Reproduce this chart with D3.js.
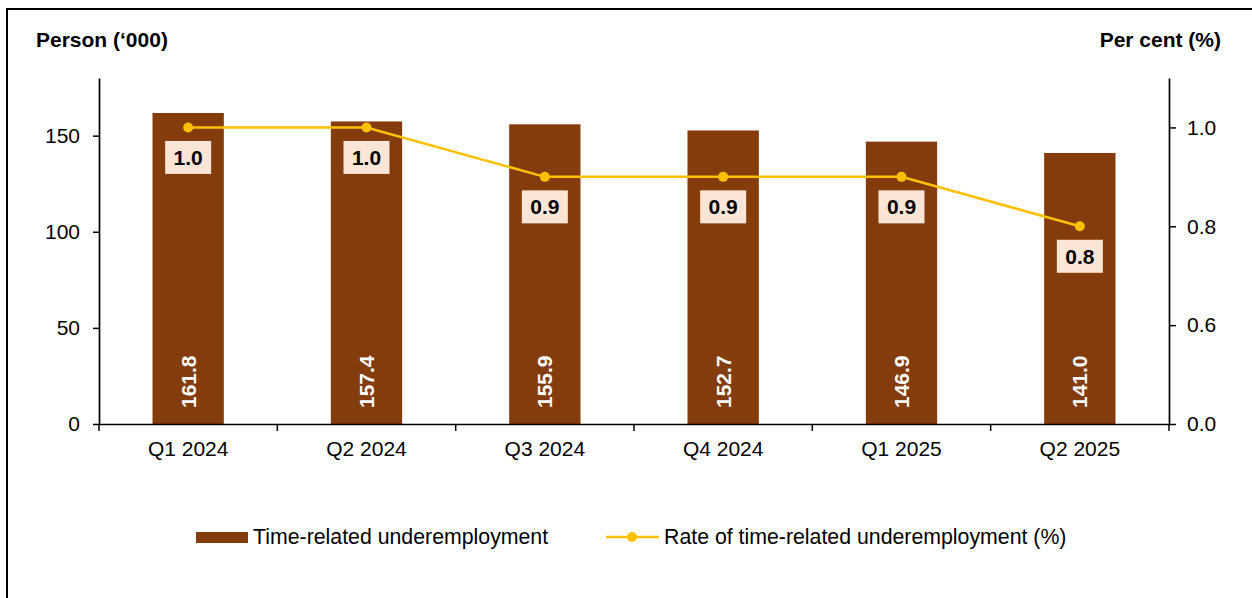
<!DOCTYPE html>
<html>
<head>
<meta charset="utf-8">
<script src="https://cdn.jsdelivr.net/npm/d3@7"></script>
<style>
  body { margin: 0; background: #fff; }
  svg { display: block; font-family: "Liberation Sans", Arial, sans-serif; }
</style>
</head>
<body>
<div id="chart"></div>
<script>
// Data
const quarters = ['Q1 2024', 'Q2 2024', 'Q3 2024', 'Q4 2024', 'Q1 2025', 'Q2 2025'];
const underemployed = [161.8, 157.4, 155.9, 152.7, 146.9, 141.0];   // persons ('000)
const rate = [1.0, 1.0, 0.9, 0.9, 0.9, 0.8];                        // per cent
const leftTicks = [0, 50, 100, 150];
const rightTicks = [0, 0.6, 0.8, 1.0];

const W = 1252, H = 598;
const plot = { left: 99, right: 1169, top: 78, bottom: 424 };
const BAR = '#843C0C', LINE = '#FFC000', BOX = '#FBE5D6';

const svg = d3.select('#chart').append('svg')
    .attr('width', W)
    .attr('height', H);

// outer frame
svg.append('rect')
    .attr('x', 7).attr('y', 9)
    .attr('width', W + 20).attr('height', H + 20)
    .attr('fill', 'none')
    .attr('stroke', '#000')
    .attr('stroke-width', 2);

const x = d3.scaleBand()
    .domain(quarters)
    .range([plot.left, plot.right])
    .padding(0);

const yL = d3.scaleLinear()
    .domain([0, 180])
    .range([plot.bottom, plot.top]);

// right axis is broken: 0.0 to 0.6 occupies one step, like 0.6 to 0.8
const plotH = plot.bottom - plot.top;
const yR = d3.scaleLinear()
    .domain([0, 0.6, 1.1])
    .range([plot.bottom, plot.bottom - plotH * 2 / 7, plot.top]);

const barW = x.bandwidth() * 0.4;

// bars
svg.append('g').selectAll('rect')
    .data(underemployed)
    .join('rect')
    .attr('x', (d, i) => x(quarters[i]) + x.bandwidth() / 2 - barW / 2)
    .attr('y', d => yL(d))
    .attr('width', barW)
    .attr('height', d => yL(0) - yL(d))
    .attr('fill', BAR);

// bar value labels (rotated, white)
svg.append('g').selectAll('text')
    .data(underemployed)
    .join('text')
    .attr('transform', (d, i) => `translate(${x(quarters[i]) + x.bandwidth() / 2},${plot.bottom - 16}) rotate(-90)`)
    .attr('dy', '0.36em')
    .attr('text-anchor', 'start')
    .attr('fill', '#fff')
    .style('font-size', '21px')
    .style('font-weight', 'bold')
    .text(d => d.toFixed(1));

// left axis
const axL = svg.append('g')
    .attr('transform', `translate(${plot.left},0)`)
    .call(d3.axisLeft(yL).tickValues(leftTicks).tickSize(6).tickPadding(13).tickSizeOuter(0));

// right axis
const axR = svg.append('g')
    .attr('transform', `translate(${plot.right},0)`)
    .call(d3.axisRight(yR).tickValues(rightTicks).tickFormat(d3.format('.1f')).tickSize(7).tickPadding(11).tickSizeOuter(0));

// x axis with ticks between categories
const axX = svg.append('g')
    .attr('transform', `translate(0,${plot.bottom})`)
    .call(d3.axisBottom(x).tickSize(0).tickPadding(17));
axX.selectAll('.boundary')
    .data(d3.range(quarters.length + 1))
    .join('line')
    .attr('x1', i => plot.left + i * x.step())
    .attr('x2', i => plot.left + i * x.step())
    .attr('y1', 0).attr('y2', 7)
    .attr('stroke', '#000')
    .attr('stroke-width', 1.5);

[axL, axR, axX].forEach(ax => {
    ax.selectAll('.domain').attr('stroke', '#000').attr('stroke-width', 1.7);
    ax.selectAll('.tick line').attr('stroke', '#000').attr('stroke-width', 1.5);
    ax.selectAll('.tick text')
        .attr('fill', '#000')
        .style('font-size', '21px')
        .style('font-family', '"Liberation Sans", Arial, sans-serif');
});

// rate line
const line = d3.line()
    .x((d, i) => x(quarters[i]) + x.bandwidth() / 2)
    .y(d => yR(d));

svg.append('path')
    .datum(rate)
    .attr('d', line)
    .attr('fill', 'none')
    .attr('stroke', LINE)
    .attr('stroke-width', 2.5);

svg.append('g').selectAll('circle')
    .data(rate)
    .join('circle')
    .attr('cx', (d, i) => x(quarters[i]) + x.bandwidth() / 2)
    .attr('cy', d => yR(d))
    .attr('r', 5)
    .attr('fill', LINE);

// rate labels in boxes
const lab = svg.append('g').selectAll('g')
    .data(rate)
    .join('g')
    .attr('transform', (d, i) => `translate(${x(quarters[i]) + x.bandwidth() / 2},${yR(d) + 30})`);
lab.append('rect')
    .attr('x', -23).attr('y', -16.5)
    .attr('width', 46).attr('height', 33)
    .attr('fill', BOX);
lab.append('text')
    .attr('text-anchor', 'middle')
    .attr('dy', '0.36em')
    .attr('fill', '#000')
    .style('font-size', '21px')
    .style('font-weight', 'bold')
    .text(d => d.toFixed(1));

// axis titles
svg.append('text')
    .attr('x', 36).attr('y', 47)
    .style('font-size', '21px')
    .style('font-weight', 'bold')
    .text('Person (\u2018000)');
svg.append('text')
    .attr('x', 1221).attr('y', 47)
    .attr('text-anchor', 'end')
    .style('font-size', '21px')
    .style('font-weight', 'bold')
    .text('Per cent (%)');

// legend
const leg = svg.append('g');
leg.append('rect')
    .attr('x', 196).attr('y', 532)
    .attr('width', 52).attr('height', 11)
    .attr('fill', BAR);
leg.append('text')
    .attr('x', 253).attr('y', 544)
    .style('font-size', '21.3px')
    .text('Time-related underemployment');
leg.append('line')
    .attr('x1', 606).attr('x2', 659)
    .attr('y1', 537).attr('y2', 537)
    .attr('stroke', LINE)
    .attr('stroke-width', 2.5);
leg.append('circle')
    .attr('cx', 632).attr('cy', 537).attr('r', 5)
    .attr('fill', LINE);
leg.append('text')
    .attr('x', 664).attr('y', 544)
    .style('font-size', '21.3px')
    .text('Rate of time-related underemployment (%)');
</script>
</body>
</html>
